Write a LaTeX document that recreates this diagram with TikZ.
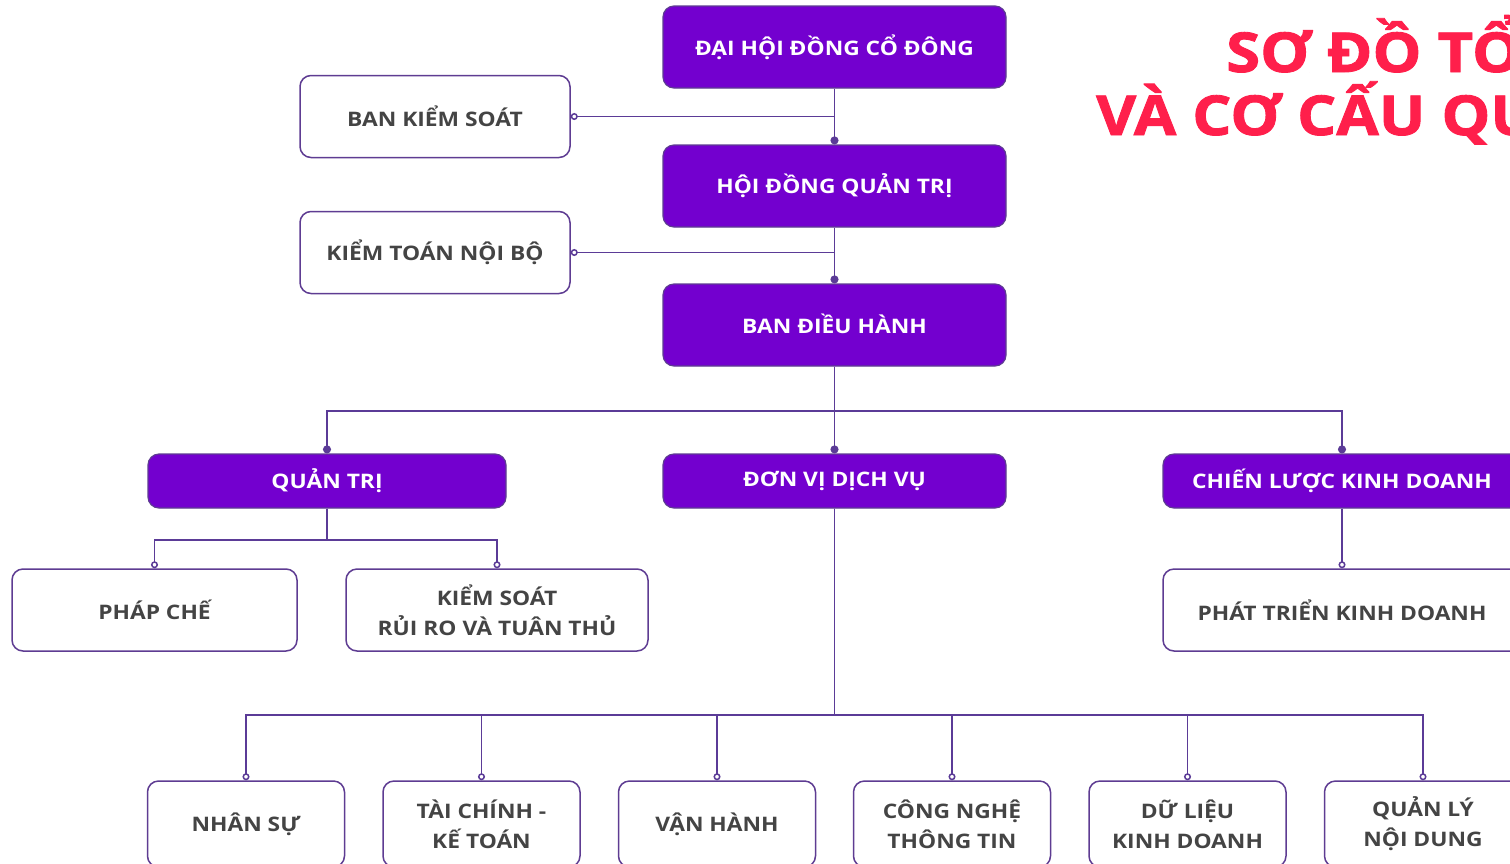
\documentclass[tikz,border=0pt]{standalone}
\usepackage{fontspec}
\setmainfont{Open Sans}
\newfontfamily\chu[FakeStretch=1.14]{Open Sans}
\newfontfamily\tieude[FakeStretch=1.12,FakeBold=1.6]{Open Sans}
\usetikzlibrary{arrows.meta}
\definecolor{tim}{HTML}{7300CF}
\definecolor{vientim}{HTML}{5E3C92}
\definecolor{duong}{HTML}{5B3B97}
\definecolor{chuxam}{HTML}{444444}
\definecolor{do}{HTML}{FF1F4B}
\begin{document}
\begin{tikzpicture}[x=1pt,y=-1pt]
			\tikzstyle{BOX}=[rectangle,rounded corners=11pt,fill=tim,draw=vientim,line width=1.2pt,text=white,font=\chu\bfseries\fontsize{20}{30}\selectfont,minimum width=343pt,minimum height=82pt,inner sep=0pt,align=center]
			\tikzstyle{WBOX}=[rectangle,rounded corners=11pt,fill=white,draw=vientim,line width=1.5pt,text=chuxam,font=\chu\bfseries\fontsize{20}{30}\selectfont,minimum height=82pt,inner sep=0pt,align=center]
			\tikzstyle{LINE}=[draw=duong,line width=1.8pt]
			\tikzstyle{DOT}=[-{Circle[length=8pt,width=8pt]}]
			\tikzstyle{RING}=[-{Circle[open,fill=white,length=7pt,width=7pt,line width=1.5pt]}]
			\clip (0,0) rectangle (1510,863);
			\fill[white] (0,0) rectangle (1510,863);
			
			\begin{scope}
			\node[BOX] (dhcd) at (834.5,47)  {ĐẠI HỘI ĐỒNG CỔ ĐÔNG\rule[-3pt]{0pt}{0pt}};
			\node[BOX] (hdqt) at (834.5,186) {HỘI ĐỒNG QUẢN TRỊ\rule[-3pt]{0pt}{0pt}};
			\node[BOX] (bdh)  at (834.5,325) {BAN ĐIỀU HÀNH\rule[-3pt]{0pt}{0pt}};
			\node[WBOX,minimum width=270pt] (bks)  at (435,116.5) {BAN KIỂM SOÁT};
			\node[WBOX,minimum width=270pt] (ktnb) at (435,252.5) {KIỂM TOÁN NỘI BỘ};
			\node[BOX,minimum width=358pt,minimum height=54pt] (qt)   at (327,481)   {QUẢN TRỊ};
			\node[BOX,minimum height=54pt]                    (dvdv) at (834.5,481) {ĐƠN VỊ DỊCH VỤ};
			\node[BOX,minimum width=358pt,minimum height=54pt] (cl)   at (1342,481)  {CHIẾN LƯỢC KINH DOANH};
			\node[WBOX,minimum width=285pt] (pc)   at (154.5,610) {PHÁP CHẾ};
			\node[WBOX,minimum width=302pt] (ksrr) at (497,610)   {KIỂM SOÁT\\RỦI RO VÀ TUÂN THỦ};
			\node[WBOX,minimum width=358pt] (pt)   at (1342,610)  {PHÁT TRIỂN KINH DOANH};
			\node[WBOX,minimum width=197pt,minimum height=86pt] (ns)   at (246,824)    {NHÂN SỰ};
			\node[WBOX,minimum width=197pt,minimum height=86pt] (tckt) at (481.5,824)  {TÀI CHÍNH -\\KẾ TOÁN};
			\node[WBOX,minimum width=197pt,minimum height=86pt] (vh)   at (717,824)    {VẬN HÀNH};
			\node[WBOX,minimum width=197pt,minimum height=86pt] (cntt) at (952,824)    {CÔNG NGHỆ\\THÔNG TIN};
			\node[WBOX,minimum width=197pt,minimum height=86pt] (dlkd) at (1187.5,824) {DỮ LIỆU\\KINH DOANH};
			\node[WBOX,minimum width=197pt,minimum height=86pt] (qlnd) at (1423,824)   {QUẢN LÝ\\NỘI DUNG};
			\end{scope}
			
			% tieu de
			\node[anchor=base west,inner sep=0pt,text=do,font=\tieude\bfseries\fontsize{55}{60}\selectfont] (td1) at (1226,72)  {SƠ ĐỒ TỔ};
			\node[anchor=base west,inner sep=0pt,text=do,font=\tieude\bfseries\fontsize{55}{60}\selectfont] (td2) at (1096,135) {VÀ CƠ CẤU QU};
			
			% khoi tren
			\draw[LINE,DOT]  (dhcd.south) -- (hdqt.north);
			\draw[LINE,DOT]  (hdqt.south) -- (bdh.north);
			\draw[LINE,RING] (bks.east -| dhcd.south) -- (bks.east);
			\draw[LINE,RING] (ktnb.east -| hdqt.south) -- (ktnb.east);
			
			% tang 2
			\draw[LINE,DOT] (bdh.south) -- ++(0,44) -| (qt.north);
			\draw[LINE,DOT] (bdh.south) -- (dvdv.north);
			\draw[LINE,DOT] (bdh.south) -- ++(0,44) -| (cl.north);
			
			% tang 3
			\draw[LINE,RING] (qt.south) -- ++(0,31) -| (pc.north);
			\draw[LINE,RING] (qt.south) -- ++(0,31) -| (ksrr.north);
			\draw[LINE,RING] (cl.south) -- (pt.north);
			
			% don vi dich vu
			\foreach \n in {ns,tckt,vh,cntt,dlkd,qlnd}
				\draw[LINE,RING] (dvdv.south) -- ++(0,206) -| (\n.north);
		\end{tikzpicture}
\end{document}
